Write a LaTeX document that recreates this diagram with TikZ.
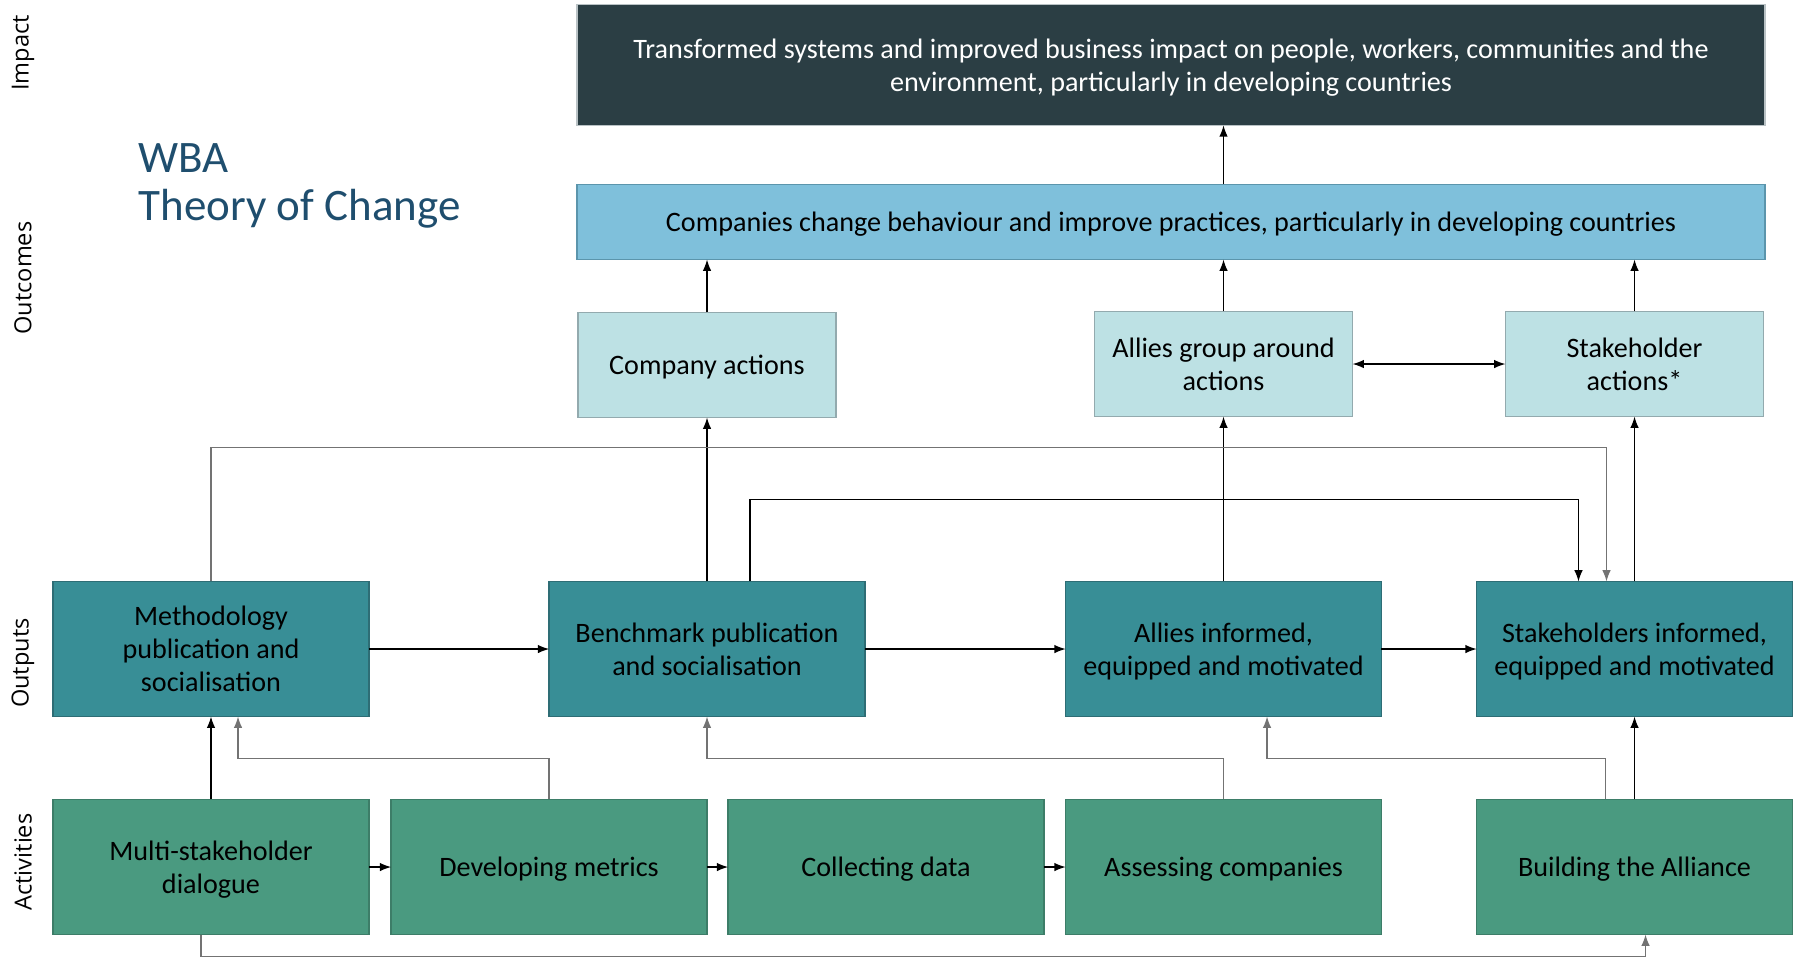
\documentclass[tikz,border=0pt]{standalone}
\usepackage{fontspec}
\setmainfont{Carlito}
\newfontfamily\sidefont{Open Sans}
\usetikzlibrary{arrows.meta}
\definecolor{impactcol}{HTML}{2B3E44}
\definecolor{impactline}{HTML}{B9C2C5}
\definecolor{outcol}{HTML}{7FC0DB}
\definecolor{outline}{HTML}{5B95AC}
\definecolor{actcol}{HTML}{BDE1E4}
\definecolor{actline}{HTML}{93AAAE}
\definecolor{outpcol}{HTML}{388E96}
\definecolor{outpline}{HTML}{2E6D75}
\definecolor{activcol}{HTML}{4A9A80}
\definecolor{activline}{HTML}{3D7D68}
\definecolor{titlecol}{HTML}{1F4E6E}
\tikzstyle{box}=[rectangle,draw,line width=0.45pt,inner sep=0pt,outer sep=0pt,align=center,text depth=0pt,font=\fontsize{8}{9.4}\selectfont]
\tikzstyle{impact}=[box,fill=impactcol,draw=impactline,text=white,minimum width=11.87cm,minimum height=1.206cm]
\tikzstyle{outcome}=[box,fill=outcol,draw=outline,minimum width=11.87cm,minimum height=0.75cm]
\tikzstyle{action}=[box,fill=actcol,draw=actline,minimum width=2.58cm,minimum height=1.05cm]
\tikzstyle{output}=[box,fill=outpcol,draw=outpline,minimum width=3.155cm,minimum height=1.35cm]
\tikzstyle{activity}=[box,fill=activcol,draw=activline,minimum width=3.155cm,minimum height=1.35cm]
\tikzstyle{side}=[rotate=90,font=\sidefont\fontsize{6.7}{8}\selectfont]
\tikzstyle{link}=[->,line width=0.35pt]
\tikzstyle{glink}=[link,draw=black!55]

\begin{document}
\begin{tikzpicture}[x=0.01cm,y=-0.01cm,>={Latex[length=3.2pt,width=2.4pt]}]
\useasboundingbox (0,0) rectangle (1804,959);

\node[side] (limp) at (23,53) {Impact};
\node[side] (lout) at (23,278) {Outcomes};
\node[side] (lput) at (23,663) {Outputs};
\node[side] (lact) at (23,862) {Activities};

\node[anchor=base west,align=left,inner sep=0pt,text=titlecol,font=\fontsize{12.8}{13.4}\selectfont] (title) at (138,220) {WBA\\Theory of Change};

\node[impact] (imp) at (1171, 65) {Transformed systems and improved business impact on people, workers, communities and the\\environment, particularly in developing countries};
\node[outcome] (outc) at (1171, 222) {Companies change behaviour and improve practices, particularly in developing countries};

\node[action] (cact) at (707, 365) {Company actions};
\node[action] (agrp) at (1223.5, 364) {Allies group around\\actions};
\node[action] (sact) at (1634.5, 364) {Stakeholder\\actions*};

\node[output] (meth) at (211, 649) {Methodology\\publication and\\socialisation};
\node[output] (bench) at (707, 649) {Benchmark publication\\and socialisation};
\node[output] (ainf) at (1223.5, 649) {Allies informed,\\equipped and motivated};
\node[output] (sinf) at (1634.5, 649) {Stakeholders informed,\\equipped and motivated};

\node[activity] (multi) at (211, 867) {Multi-stakeholder\\dialogue};
\node[activity] (dev) at (549, 867) {Developing metrics};
\node[activity] (coll) at (886, 867) {Collecting data};
\node[activity] (assess) at (1223.5, 867) {Assessing companies};
\node[activity] (build) at (1634.5, 867) {Building the Alliance};

% outcomes and impact
\draw[link] (agrp.north |- outc.north) -- (agrp.north |- imp.south);
\draw[link] (cact.north) -- (cact.north |- outc.south);
\draw[link] (agrp.north) -- (agrp.north |- outc.south);
\draw[link] (sact.north) -- (sact.north |- outc.south);
\draw[link,<->] (agrp.east) -- (sact.west);

% outputs up
\draw[link] (bench.north) -- (cact.south);
\draw[link] (ainf.north) -- (agrp.south);
\draw[link] (sinf.north) -- (sact.south);
\draw[glink] (meth.north) -- ++(0,-134) -| ([xshift=-2.8mm]sinf.north);
\draw[link] ([xshift=4.3mm]bench.north) -- ++(0,-82) -| ([xshift=-5.6mm]sinf.north);

\draw[link] (meth.east) -- (bench.west);
\draw[link] (bench.east) -- (ainf.west);
\draw[link] (ainf.east) -- (sinf.west);

% activities
\draw[link] (multi.east) -- (dev.west);
\draw[link] (dev.east) -- (coll.west);
\draw[link] (coll.east) -- (assess.west);

\draw[link] (multi.north) -- (meth.south);
\draw[glink] (dev.north) -- ++(0,-41) -| ([xshift=2.7mm]meth.south);
\draw[glink] (assess.north) -- ++(0,-41) -| (bench.south);
\draw[glink] ([xshift=-2.9mm]build.north) -- ++(0,-41) -| ([xshift=4.35mm]ainf.south);
\draw[link] (build.north) -- (sinf.south);
\draw[glink] ([xshift=-1mm]multi.south) -- ++(0,22) -| ([xshift=1.1mm]build.south);

\end{tikzpicture}
\end{document}
